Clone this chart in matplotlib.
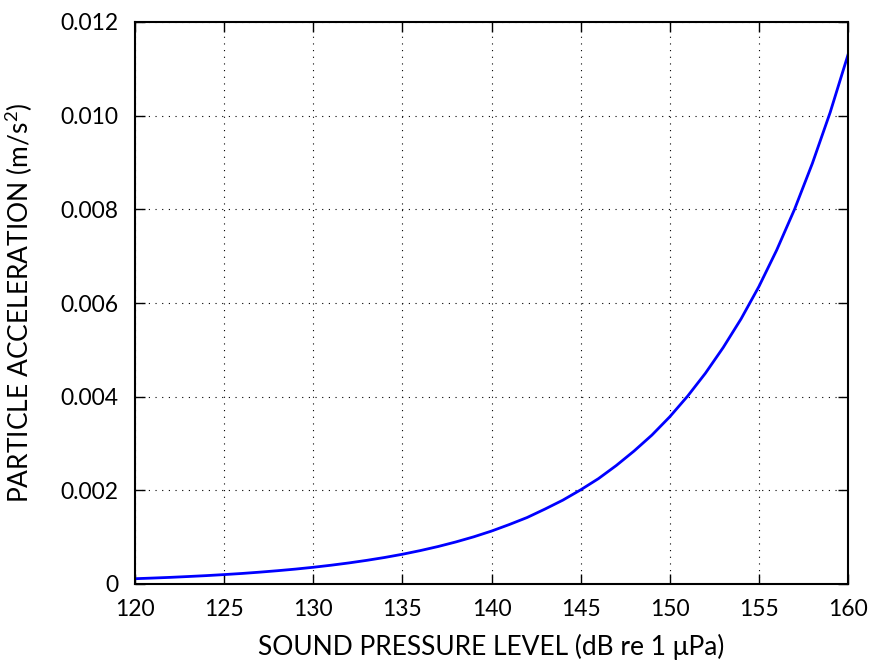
import matplotlib
matplotlib.use("Agg")
import matplotlib.pyplot as plt

spl_db = list(range(120, 161))
accel = [0.000113, 0.000127, 0.000142, 0.000160, 0.000179, 0.000201, 0.000225,
         0.000253, 0.000284, 0.000318, 0.000357, 0.000401, 0.000450, 0.000505,
         0.000566, 0.000635, 0.000713, 0.000800, 0.000898, 0.001007, 0.00113,
         0.00127, 0.00142, 0.00160, 0.00179, 0.00201, 0.00225, 0.00253, 0.00284,
         0.00318, 0.00357, 0.00401, 0.00450, 0.00505, 0.00566, 0.00635, 0.00713,
         0.00800, 0.00898, 0.01007, 0.0113]
xticks = [120, 125, 130, 135, 140, 145, 150, 155, 160]
yticks = [0, 0.002, 0.004, 0.006, 0.008, 0.010, 0.012]
ytick_labels = ["0", "0.002", "0.004", "0.006", "0.008", "0.010", "0.012"]

plt.rcParams['font.family'] = ['Lato', 'DejaVu Sans']
plt.rcParams['mathtext.fontset'] = 'custom'
plt.rcParams['mathtext.rm'] = 'Lato'

fig = plt.figure(figsize=(8.69, 6.65), dpi=100)
ax = fig.add_axes([135/869, 1-584/665, (848-135)/869, (584-22)/665])
ax.plot(spl_db, accel, color='#0000ff', lw=2)
ax.set_xlim(120, 160)
ax.set_ylim(0, 0.012)
ax.set_xticks(xticks)
ax.set_yticks(yticks)
ax.set_yticklabels(ytick_labels)
ax.grid(True, color='black', linestyle=(0, (1, 5)), linewidth=0.8)
ax.tick_params(direction='in', length=7, width=1, top=True, right=True,
               labelsize=16.5, colors='black')
ax.tick_params(axis='y', pad=12)
ax.tick_params(axis='x', pad=11)
for s in ax.spines.values():
    s.set_linewidth(1.5)
ax.set_xlabel("SOUND PRESSURE LEVEL (dB re 1 \u03bcPa)", fontsize=19, labelpad=10)
ax.set_ylabel("PARTICLE ACCELERATION (m/s$^2$)", fontsize=19, labelpad=18)
fig.savefig("out.png", dpi=100)
